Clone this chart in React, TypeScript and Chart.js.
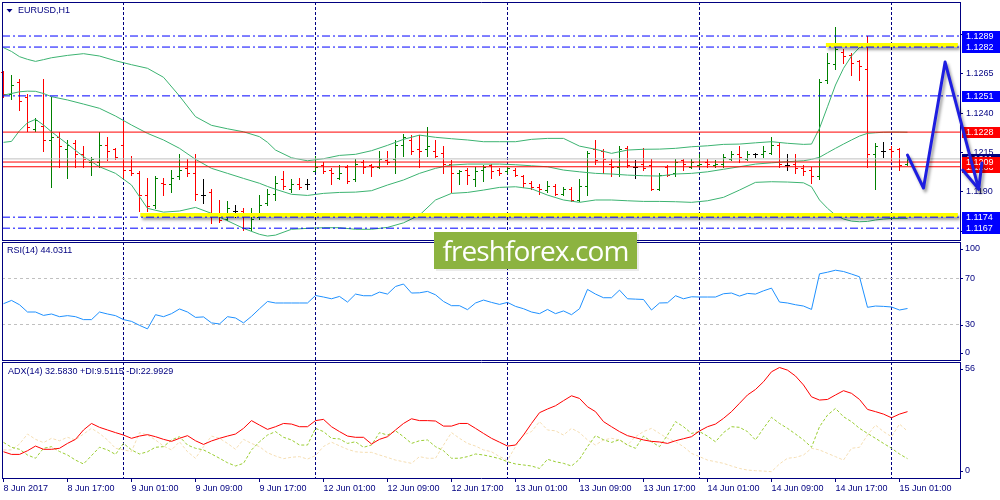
import React, { useEffect, useRef } from 'react';
import { Chart, registerables } from 'chart.js';

Chart.register(...registerables);

// ---------------- data ----------------
const barOpen = [1.1266,1.1252,1.1260,1.1250,1.1230,1.1232,1.1223,1.1225,1.1217,1.1221,1.1214,1.1209,1.1209,1.1220,1.1217,1.1220,1.1204,1.1202,1.1188,1.1182,1.1196,1.1195,1.1200,1.1205,1.1202,1.1188,1.1190,1.1175,1.1173,1.1178,1.1178,1.1167,1.1174,1.1183,1.1189,1.1198,1.1192,1.1195,1.1195,1.1203,1.1207,1.1204,1.1199,1.1206,1.1198,1.1209,1.1207,1.1206,1.1210,1.1211,1.1220,1.1223,1.1217,1.1217,1.1216,1.1215,1.1208,1.1202,1.1204,1.1198,1.1204,1.1207,1.1204,1.1203,1.1204,1.1200,1.1196,1.1193,1.1191,1.1194,1.1189,1.1192,1.1185,1.1194,1.1217,1.1216,1.1208,1.1206,1.1218,1.1206,1.1208,1.1207,1.1192,1.1206,1.1202,1.1210,1.1206,1.1207,1.1209,1.1207,1.1208,1.1211,1.1214,1.1211,1.1214,1.1214,1.1215,1.1220,1.1207,1.1208,1.1205,1.1204,1.1200,1.1261,1.1271,1.1279,1.1277,1.1273,1.1268,1.1214,1.1216,1.1217,1.1217,1.1208];
const barHigh = [1.1267,1.1264,1.1262,1.1252,1.1237,1.1262,1.1250,1.1228,1.1223,1.1223,1.1219,1.1212,1.1228,1.1225,1.1218,1.1236,1.1213,1.1203,1.1199,1.1200,1.1199,1.1204,1.1214,1.1211,1.1214,1.1198,1.1192,1.1185,1.1184,1.1182,1.1180,1.1180,1.1188,1.1192,1.1200,1.1203,1.1198,1.1199,1.1198,1.1213,1.1209,1.1205,1.1207,1.1207,1.1211,1.1210,1.1208,1.1216,1.1216,1.1223,1.1227,1.1226,1.1226,1.1231,1.1223,1.1219,1.1210,1.1204,1.1205,1.1206,1.1207,1.1208,1.1205,1.1206,1.1205,1.1201,1.1197,1.1195,1.1197,1.1195,1.1193,1.1193,1.1198,1.1216,1.1223,1.1217,1.1211,1.1219,1.1219,1.1210,1.1218,1.1211,1.1202,1.1207,1.1211,1.1211,1.1211,1.1214,1.1211,1.1210,1.1214,1.1216,1.1219,1.1216,1.1215,1.1219,1.1225,1.1221,1.1214,1.1214,1.1207,1.1206,1.1262,1.1278,1.1295,1.1281,1.1278,1.1274,1.1289,1.1221,1.1222,1.1219,1.1218,1.1213];
const barLow = [1.1250,1.1249,1.1242,1.1229,1.1229,1.1216,1.1193,1.1206,1.1199,1.1206,1.1206,1.1201,1.1206,1.1210,1.1211,1.1199,1.1201,1.1178,1.1178,1.1180,1.1188,1.1190,1.1198,1.1200,1.1185,1.1183,1.1170,1.1171,1.1172,1.1174,1.1166,1.1166,1.1173,1.1182,1.1185,1.1192,1.1190,1.1192,1.1192,1.1203,1.1202,1.1195,1.1198,1.1196,1.1197,1.1202,1.1200,1.1205,1.1208,1.1202,1.1213,1.1214,1.1206,1.1213,1.1212,1.1202,1.1190,1.1195,1.1195,1.1194,1.1197,1.1199,1.1201,1.1202,1.1200,1.1193,1.1192,1.1189,1.1190,1.1188,1.1188,1.1184,1.1184,1.1188,1.1208,1.1202,1.1200,1.1200,1.1206,1.1199,1.1204,1.1191,1.1191,1.1200,1.1200,1.1204,1.1205,1.1206,1.1206,1.1206,1.1206,1.1210,1.1209,1.1210,1.1212,1.1212,1.1214,1.1206,1.1204,1.1202,1.1201,1.1196,1.1198,1.1259,1.1268,1.1272,1.1264,1.1261,1.1206,1.1192,1.1212,1.1210,1.1204,1.1207];
const barClose = [1.1252,1.1258,1.1248,1.1231,1.1236,1.1223,1.1225,1.1219,1.1220,1.1214,1.1211,1.1211,1.1220,1.1216,1.1212,1.1204,1.1202,1.1188,1.1181,1.1199,1.1195,1.1199,1.1204,1.1202,1.1189,1.1188,1.1175,1.1172,1.1180,1.1178,1.1167,1.1173,1.1182,1.1189,1.1196,1.1194,1.1195,1.1193,1.1195,1.1206,1.1203,1.1202,1.1202,1.1197,1.1208,1.1206,1.1206,1.1211,1.1209,1.1220,1.1225,1.1216,1.1216,1.1219,1.1213,1.1208,1.1202,1.1203,1.1201,1.1203,1.1206,1.1203,1.1202,1.1205,1.1201,1.1196,1.1193,1.1192,1.1194,1.1189,1.1192,1.1185,1.1194,1.1215,1.1210,1.1211,1.1206,1.1217,1.1207,1.1206,1.1205,1.1192,1.1201,1.1201,1.1209,1.1208,1.1209,1.1208,1.1208,1.1208,1.1212,1.1214,1.1212,1.1214,1.1214,1.1216,1.1220,1.1208,1.1207,1.1205,1.1203,1.1200,1.1260,1.1272,1.1281,1.1276,1.1272,1.1270,1.1214,1.1219,1.1216,1.1216,1.1207,1.1211];

const bandIdx = [0,1,2,3,4,5,6,8,10,12,14,16,18,20,22,24,26,28,30,32,33,34,36,38,40,42,44,46,48,50,52,54,56,58,60,62,64,66,68,70,72,74,76,78,80,82,84,86,88,90,92,94,96,98,100,101,102,103,104,105,106,107,108,109,110,111,112,113];
const bandUpper = [1.12816,1.12792,1.12759,1.12742,1.12729,1.12740,1.12752,1.12767,1.12778,1.12763,1.12733,1.12708,1.12685,1.12628,1.12509,1.12378,1.12323,1.12301,1.12282,1.12251,1.12215,1.12166,1.12117,1.12098,1.12111,1.12132,1.12139,1.12162,1.12196,1.12234,1.12261,1.12247,1.12238,1.12230,1.12219,1.12219,1.12219,1.12234,1.12240,1.12240,1.12191,1.12171,1.12145,1.12166,1.12171,1.12172,1.12177,1.12187,1.12193,1.12202,1.12204,1.12212,1.12219,1.12209,1.12202,1.12204,1.12304,1.12441,1.12579,1.12685,1.12763,1.12818,1.12827,1.12828,1.12830,1.12832,1.12833,1.12833];
const bandMiddle = [1.12515,1.12525,1.12536,1.12540,1.12539,1.12525,1.12505,1.12484,1.12458,1.12431,1.12382,1.12325,1.12272,1.12230,1.12177,1.12107,1.12050,1.12018,1.11986,1.11955,1.11935,1.11917,1.11885,1.11878,1.11891,1.11897,1.11899,1.11908,1.11944,1.11976,1.12018,1.12050,1.12071,1.12077,1.12077,1.12077,1.12073,1.12066,1.12060,1.12039,1.12028,1.12018,1.12014,1.12007,1.12003,1.12001,1.12014,1.12018,1.12028,1.12044,1.12060,1.12077,1.12085,1.12092,1.12098,1.12107,1.12120,1.12149,1.12177,1.12204,1.12230,1.12255,1.12272,1.12276,1.12279,1.12280,1.12280,1.12279];
const bandLower = [1.12215,1.12221,1.12289,1.12339,1.12361,1.12325,1.12282,1.12204,1.12124,1.12060,1.12018,1.11944,1.11796,1.11772,1.11779,1.11802,1.11764,1.11717,1.11669,1.11631,1.11620,1.11626,1.11663,1.11669,1.11673,1.11673,1.11663,1.11663,1.11675,1.11704,1.11753,1.11849,1.11891,1.11897,1.11912,1.11929,1.11933,1.11920,1.11880,1.11849,1.11834,1.11849,1.11849,1.11844,1.11840,1.11840,1.11838,1.11834,1.11844,1.11866,1.11912,1.11961,1.11965,1.11963,1.11958,1.11933,1.11849,1.11796,1.11753,1.11728,1.11715,1.11711,1.11713,1.11722,1.11728,1.11732,1.11732,1.11732];

const rsiValues = [48.1,50.9,47.2,41.0,41.0,38.1,39.3,37.0,37.9,37.0,34.5,34.5,41.0,39.3,37.9,34.5,33.0,29.6,26.6,38.7,37.0,39.6,43.6,41.0,36.4,36.8,31.7,30.8,37.0,35.9,31.7,37.3,43.8,50.0,48.7,48.7,48.7,48.7,48.7,55.1,53.8,52.3,54.3,49.5,56.3,54.9,54.9,58.0,56.3,62.8,64.9,57.2,57.4,58.6,55.7,50.0,46.4,46.4,43.0,48.7,51.2,49.2,47.5,49.2,45.8,43.8,41.0,39.6,43.2,39.6,41.9,38.7,43.8,60.3,56.3,53.2,53.2,59.7,52.3,52.0,51.7,42.7,48.7,48.9,54.9,52.3,54.0,53.8,53.8,53.8,56.6,57.2,54.6,56.9,56.3,59.1,61.4,49.5,48.7,47.2,46.1,43.2,73.6,75.0,76.7,75.6,73.4,71.1,45.0,46.1,45.8,45.3,42.7,44.0];

const adxValues = [12.9,11.6,11.6,13.4,15.7,14.1,14.1,14.6,17.0,19.0,23.6,26.8,24.9,23.6,22.3,21.1,19.5,20.6,21.3,20.3,19.0,18.0,19.5,20.8,18.3,16.5,18.2,19.5,20.6,21.6,24.4,28.2,26.0,23.9,25.2,26.8,26.5,25.2,25.2,28.2,28.8,25.2,22.8,20.6,20.0,20.0,16.7,19.0,20.3,23.6,26.8,29.1,28.2,28.2,28.0,25.5,25.5,26.8,26.8,24.4,21.9,19.5,17.6,15.7,16.2,21.1,26.8,32.1,33.9,35.5,38.0,40.4,39.1,35.0,32.6,27.7,25.2,22.8,20.8,19.8,18.7,18.0,17.7,17.0,18.3,19.3,20.3,23.1,25.2,26.5,29.3,32.6,36.7,40.8,43.5,47.3,52.2,54.3,53.0,50.1,45.7,39.9,38.3,38.6,40.8,42.9,41.6,38.6,33.7,32.6,31.4,29.6,31.4,32.6];
const plusDiValues = [17.5,15.1,14.1,11.3,9.7,14.6,15.4,13.0,11.3,8.8,6.9,11.0,15.1,13.8,11.6,17.0,13.8,11.8,12.9,15.1,15.4,18.7,20.3,16.2,14.6,13.8,11.8,9.7,7.5,5.9,7.2,13.8,17.8,21.1,22.8,20.0,18.7,16.2,16.2,24.4,22.8,19.5,19.2,17.0,17.8,15.1,16.2,22.3,21.1,23.2,20.3,17.0,18.3,18.7,15.4,13.4,9.7,9.7,10.5,11.8,11.3,10.5,9.5,8.0,6.9,6.4,5.9,4.7,9.2,8.0,7.2,5.9,9.2,15.4,20.8,18.8,17.5,18.8,16.2,14.6,20.6,17.8,15.4,21.1,27.7,25.2,21.9,22.8,20.6,17.8,22.3,25.2,24.9,22.8,18.7,24.4,29.8,26.8,24.4,21.6,18.7,15.1,25.2,30.9,34.2,30.1,27.7,24.4,21.9,19.5,17.0,14.6,11.8,9.5];
const minusDiValues = [13.8,13.8,16.7,21.6,19.0,17.4,19.5,18.3,20.0,18.7,21.6,24.4,21.9,18.7,14.6,13.8,13.0,22.3,21.1,18.7,15.7,13.8,17.8,12.9,9.7,15.4,20.6,19.5,17.0,14.1,19.0,17.0,15.4,12.4,10.8,9.5,10.2,10.5,9.3,11.0,15.5,17.6,15.8,14.1,12.9,12.6,12.6,11.3,10.1,8.8,8.0,7.2,10.5,9.7,9.7,16.2,22.3,19.5,17.0,15.7,13.8,12.9,10.5,8.8,15.4,21.1,22.8,27.7,23.6,23.2,21.1,24.4,22.3,18.7,16.2,18.7,19.5,18.7,16.2,20.3,22.8,24.4,21.9,19.5,17.8,15.4,12.1,10.5,8.8,8.0,7.2,5.9,4.7,3.9,3.6,3.4,3.1,6.9,9.7,10.1,11.3,14.6,13.8,12.1,10.5,8.8,14.6,15.1,21.1,26.0,22.8,20.3,26.5,23.0];

const timeLabels = ['8 Jun 2017','8 Jun 17:00','9 Jun 01:00','9 Jun 09:00','9 Jun 17:00','12 Jun 01:00','12 Jun 09:00','12 Jun 17:00','13 Jun 01:00','13 Jun 09:00','13 Jun 17:00','14 Jun 01:00','14 Jun 09:00','14 Jun 17:00','15 Jun 01:00'];
const labelBars = [0,8,16,24,32,40,48,56,64,72,80,88,96,104,112];
const dayBreakBars = [15,39,63,87,111];

const priceTicks = [1.1165,1.1190,1.1215,1.1240,1.1265,1.1290];
const rsiTicks = [0,30,70,100];
const rsiLevels = [30,70];
const adxTicks = [0,56];

const blueLevels = [1.1289,1.1282,1.1251,1.1174,1.1167];
const redLevels = [1.1228,1.1209,1.1206];
const bidPrice = 1.1211;
const zoneLevels = [1.12833,1.11753];
const zoneStart = [102.8,17.1];
const zoneEnd = [119.3,119.3];
const forecastBars = [113,115,117.7,121.9,122.3];
const forecastPrices = [1.12134,1.11925,1.12725,1.11918,1.12084];
const forecastTailBars = [119.9,121.9];
const forecastTailPrices = [1.12039,1.11918];

const rsiTitle = 'RSI(14) 44.0311';
const adxTitle = 'ADX(14) 32.5830 +DI:9.5115 -DI:22.9929';
const symbolTitle = 'EURUSD,H1';

// ---------------- config ----------------
const X_MIN = -0.1875;
const X_MAX = 119.5625;
const PRICE_MIN = 1.11595;
const PRICE_MAX = 1.13106;
const NAVY = '#000080';
const FONT = '"Liberation Sans", Arial, sans-serif';
const BAND = '#3CB371';
const FORECAST = 'rgb(30,30,225)';

const xy = (xs: number[], ys: number[]) => xs.map((x, k) => ({ x, y: ys[k] }));
const span = (p: number, a = X_MIN, b = X_MAX) => [{ x: a, y: p }, { x: b, y: p }];
const seq = (ys: number[]) => ys.map((y, i) => ({ x: i, y }));

const lineDs = (data: any[], color: string, extra: any = {}) => ({
  type: 'line', data, borderColor: color, borderWidth: 1, pointRadius: 0,
  pointHoverRadius: 0, tension: 0, fill: false, ...extra,
});

const shadowStyle = { shadowColor: 'rgba(0,0,0,0.38)', shadowBlur: 3, shadowOffsetX: 2, shadowOffsetY: 3 };

const xGrid = () => ({
  type: 'linear', bounds: 'data',
  afterDataLimits: (s: any) => { s.min = X_MIN; s.max = X_MAX; },
  afterBuildTicks: (s: any) => { s.ticks = dayBreakBars.map((v) => ({ value: v })); },
  afterFit: (s: any) => { s.height = 0; s.paddingLeft = 0; s.paddingRight = 0; },
  grid: { color: NAVY, lineWidth: 1, drawTicks: false },
  border: { display: false, dash: [3, 2] },
  ticks: { display: false },
});

const rightAxis = (min: number, max: number, extra: any = {}) => ({
  type: 'linear', position: 'right', bounds: 'data', min, max,
  afterFit: (s: any) => { s.width = 40; s.paddingTop = 0; s.paddingBottom = 0; },
  border: { display: true, color: NAVY, width: 1 },
  ...extra,
});

const baseOptions = (padding: any, scales: any) => ({
  responsive: false, maintainAspectRatio: false, animation: false, devicePixelRatio: 1, events: [],
  layout: { padding, autoPadding: false },
  plugins: { legend: { display: false }, tooltip: { enabled: false } },
  scales,
});

// ---------------- plugins ----------------
const shadowPlugin = {
  id: 'dsShadow',
  beforeDatasetDraw(chart: any, args: any) {
    const ds: any = chart.data.datasets[args.index];
    const ctx = chart.ctx;
    ctx.save();
    if (ds.shadowColor) {
      ctx.shadowColor = ds.shadowColor;
      ctx.shadowBlur = ds.shadowBlur;
      ctx.shadowOffsetX = ds.shadowOffsetX;
      ctx.shadowOffsetY = ds.shadowOffsetY;
    }
  },
  afterDatasetDraw(chart: any) { chart.ctx.restore(); },
};

const framePlugin = {
  id: 'frame',
  afterDraw(chart: any) {
    const { ctx, chartArea: a } = chart;
    ctx.save();
    ctx.strokeStyle = NAVY; ctx.lineWidth = 1;
    ctx.beginPath();
    ctx.moveTo(a.left, a.top + 0.5); ctx.lineTo(a.right + 1, a.top + 0.5);
    ctx.moveTo(a.left + 0.5, a.top); ctx.lineTo(a.left + 0.5, a.bottom + 1);
    ctx.moveTo(a.left, a.bottom + 0.5); ctx.lineTo(a.right + 1, a.bottom + 0.5);
    ctx.stroke();
    ctx.restore();
  },
};

const textPlugin = (text: string, x: number, y: number, triangle: boolean) => ({
  id: 'panelText',
  afterDraw(chart: any) {
    const ctx = chart.ctx;
    ctx.save();
    ctx.fillStyle = NAVY; ctx.font = `9px ${FONT}`; ctx.textBaseline = 'middle'; ctx.textAlign = 'left';
    if (triangle) {
      ctx.beginPath(); ctx.moveTo(6.5, 9); ctx.lineTo(12.5, 9); ctx.lineTo(9.5, 12.5); ctx.closePath(); ctx.fill();
    }
    ctx.fillText(text, x, y);
    ctx.restore();
  },
});

const sideLabels = (ticks: number[]) => ({
  id: 'sideLabels',
  afterDraw(chart: any) {
    const { ctx, chartArea: a, scales } = chart;
    const y = scales.y;
    ctx.save();
    ctx.font = `9px ${FONT}`; ctx.fillStyle = NAVY; ctx.strokeStyle = NAVY; ctx.lineWidth = 1;
    ctx.textBaseline = 'middle'; ctx.textAlign = 'left';
    ticks.forEach((v) => {
      const py = Math.min(Math.max(y.getPixelForValue(v), a.top + 7), a.bottom - 7);
      const ry = Math.round(py) + 0.5;
      ctx.beginPath(); ctx.moveTo(a.right, ry); ctx.lineTo(a.right + 3, ry); ctx.stroke();
      ctx.fillText(String(v), a.right + 5, py);
    });
    ctx.restore();
  },
});

const ohlcPlugin = {
  id: 'ohlc',
  beforeDatasetsDraw(chart: any) {
    const { ctx, scales } = chart;
    const x = scales.x; const y = scales.y;
    ctx.save();
    for (let i = 0; i < barOpen.length; i++) {
      const o = barOpen[i], h = barHigh[i], l = barLow[i], c = barClose[i];
      ctx.fillStyle = c > o ? '#008000' : c < o ? '#FF0000' : '#000000';
      const px = Math.floor(x.getPixelForValue(i));
      const yh = Math.round(y.getPixelForValue(h));
      const yl = Math.round(y.getPixelForValue(l));
      const yo = Math.round(y.getPixelForValue(o));
      const yc = Math.round(y.getPixelForValue(c));
      ctx.fillRect(px, yh, 1, yl - yh + 1);
      ctx.fillRect(px - 2, yo, 2, 1);
      ctx.fillRect(px + 1, yc, 2, 1);
    }
    // price labels on the right scale
    const a = chart.chartArea;
    const boxes: { p: number; c: string }[] = [
      { p: bidPrice, c: NAVY },
      ...blueLevels.map((p) => ({ p, c: '#0000FF' })),
      ...redLevels.slice().reverse().map((p) => ({ p, c: '#FF0000' })),
    ];
    ctx.font = `9px ${FONT}`; ctx.textBaseline = 'middle'; ctx.textAlign = 'left';
    boxes.forEach(({ p, c }) => {
      const py = Math.round(y.getPixelForValue(p));
      ctx.fillStyle = c;
      ctx.fillRect(a.right + 2, py - 5, 1000 - a.right - 2, 11);
      ctx.fillStyle = '#FFFFFF';
      ctx.fillText(p.toFixed(4), a.right + 6, py + 0.5);
    });
    ctx.restore();
  },
};

// ---------------- charts ----------------
function mainConfig(): any {
  const datasets: any[] = [
    lineDs(xy(forecastBars, forecastPrices), FORECAST, { borderWidth: 3, clip: false, order: 0, borderJoinStyle: 'round', borderCapStyle: 'round', ...shadowStyle }),
    lineDs(xy(forecastTailBars, forecastTailPrices), FORECAST, { borderWidth: 3, clip: false, order: 0, borderCapStyle: 'round', ...shadowStyle }),
    ...blueLevels.map((p) => lineDs(span(p), '#0000FF', { borderDash: [8, 3, 2, 3], order: 1 })),
    ...zoneLevels.map((p, k) => lineDs(span(p, zoneStart[k], zoneEnd[k]), '#FFFF00', { borderWidth: 4, order: 2, ...shadowStyle })),
    ...redLevels.map((p) => lineDs(span(p), '#FF0000', { order: 3 })),
    lineDs(span(bidPrice), '#C0C0C0', { order: 4 }),
    lineDs(xy(bandIdx, bandUpper), BAND, { order: 5 }),
    lineDs(xy(bandIdx, bandMiddle), BAND, { order: 5 }),
    lineDs(xy(bandIdx, bandLower), BAND, { order: 5 }),
  ];
  return {
    type: 'line',
    data: { datasets },
    options: baseOptions({ left: 2, top: 2, right: 0, bottom: 1 }, {
      x: xGrid(),
      y: rightAxis(PRICE_MIN, PRICE_MAX, {
        afterBuildTicks: (s: any) => { s.ticks = priceTicks.map((v) => ({ value: v })); },
        grid: { drawOnChartArea: false, drawTicks: true, tickLength: 3, tickColor: NAVY, color: NAVY },
        ticks: { color: NAVY, font: { family: FONT, size: 9 }, padding: 3, autoSkip: false, callback: (v: any) => Number(v).toFixed(4) },
      }),
    }),
    plugins: [shadowPlugin, ohlcPlugin, framePlugin, textPlugin(symbolTitle, 18, 10.5, true)],
  };
}

function rsiConfig(): any {
  return {
    type: 'line',
    data: { datasets: [lineDs(seq(rsiValues), '#1E90FF')] },
    options: baseOptions({ left: 2, top: 1, right: 0, bottom: 1 }, {
      x: xGrid(),
      y: rightAxis(0, 100.8, {
        afterBuildTicks: (s: any) => { s.ticks = rsiTicks.map((v) => ({ value: v })); },
        grid: { drawTicks: false, color: (c: any) => (c.tick && rsiLevels.includes(c.tick.value) ? '#C0C0C0' : 'rgba(0,0,0,0)') },
        border: { display: true, color: NAVY, width: 1, dash: [3, 3] },
        ticks: { display: false },
      }),
    }),
    plugins: [framePlugin, sideLabels(rsiTicks), textPlugin(rsiTitle, 7, 10, false)],
  };
}

function adxConfig(): any {
  return {
    type: 'line',
    data: {
      datasets: [
        lineDs(seq(adxValues), '#FF0000', { order: 0 }),
        lineDs(seq(plusDiValues), '#9ACD32', { borderDash: [3, 2], order: 1 }),
        lineDs(seq(minusDiValues), '#F5DEB3', { borderDash: [3, 2], order: 2 }),
      ],
    },
    options: baseOptions({ left: 2, top: 1, right: 0, bottom: 0 }, {
      x: xGrid(),
      xl: {
        type: 'linear', position: 'bottom', bounds: 'data',
        afterDataLimits: (s: any) => { s.min = X_MIN; s.max = X_MAX; },
        afterBuildTicks: (s: any) => { s.ticks = labelBars.map((v) => ({ value: v })); },
        afterFit: (s: any) => { s.height = 22; s.paddingLeft = 0; s.paddingRight = 0; },
        grid: { drawOnChartArea: false, drawTicks: true, tickLength: 4, tickColor: NAVY },
        border: { display: false },
        ticks: {
          align: 'start', autoSkip: false, maxRotation: 0, minRotation: 0, padding: 1, color: NAVY,
          font: { family: FONT, size: 9 },
          callback: (v: any) => timeLabels[labelBars.indexOf(Number(v))] ?? '',
        },
      },
      y: rightAxis(0, 57, {
        afterBuildTicks: (s: any) => { s.ticks = adxTicks.map((v) => ({ value: v })); },
        grid: { display: false },
        ticks: { display: false },
      }),
    }),
    plugins: [framePlugin, sideLabels(adxTicks), textPlugin(adxTitle, 8, 11, false)],
  };
}

export default function App() {
  const mainRef = useRef<HTMLCanvasElement>(null);
  const rsiRef = useRef<HTMLCanvasElement>(null);
  const adxRef = useRef<HTMLCanvasElement>(null);

  useEffect(() => {
    const charts = [
      new Chart(mainRef.current as HTMLCanvasElement, mainConfig()),
      new Chart(rsiRef.current as HTMLCanvasElement, rsiConfig()),
      new Chart(adxRef.current as HTMLCanvasElement, adxConfig()),
    ];
    return () => charts.forEach((c) => c.destroy());
  }, []);

  const cv = (top: number, h: number) => ({ position: 'absolute' as const, left: 0, top, width: 1000, height: h });

  return (
    <div style={{ position: 'absolute', left: 0, top: 0, width: 1000, height: 500, background: '#FFFFFF', overflow: 'hidden' }}>
      <canvas ref={mainRef} width={1000} height={241} style={cv(0, 241)} />
      <canvas ref={rsiRef} width={1000} height={120} style={cv(241, 120)} />
      <canvas ref={adxRef} width={1000} height={139} style={cv(361, 139)} />
      <div
        style={{
          position: 'absolute', left: 434, top: 232, width: 203, height: 37,
          background: '#8CB340', color: '#FFFFFF', fontFamily: '"Open Sans", "Noto Sans", sans-serif',
          fontSize: 28, lineHeight: '37px', letterSpacing: '-0.9px', textAlign: 'center',
          boxShadow: '2px 2px 0 rgba(0,0,0,0.08)', whiteSpace: 'nowrap',
        }}
      >
        freshforex.com
      </div>
    </div>
  );
}
